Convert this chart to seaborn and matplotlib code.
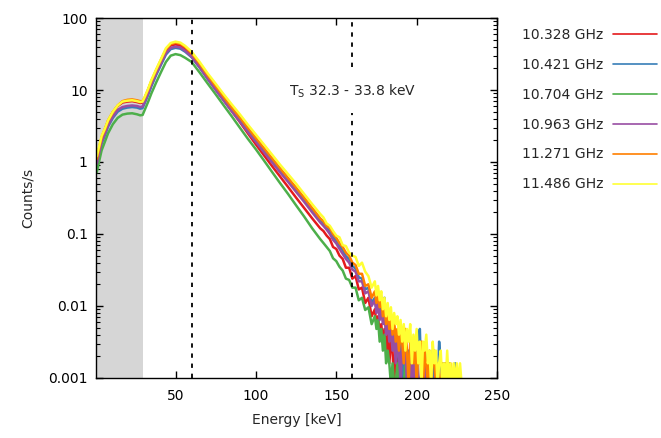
import matplotlib
matplotlib.use("Agg")
import pandas as pd
import matplotlib.pyplot as plt
import seaborn as sns
from matplotlib.ticker import NullFormatter

# energy grid (keV): coarse on the smooth part, finer in the noisy tail
energy_main = [1, 2, 4, 6, 8, 11, 14, 17, 20, 23, 26, 28, 29.5, 31, 33, 35, 38, 41, 44, 47, 50,
               53, 56, 60, 65, 70, 75, 80, 85, 90, 95, 100, 105, 110, 115, 120, 125, 130, 135, 140]
energy_tail = [142, 144, 146, 148, 150, 152, 154, 156, 158, 160, 162, 164, 166, 168, 170, 172, 174,
               175, 176, 177, 178, 179, 180, 181, 182, 183, 184, 185, 186, 187, 188, 189, 190,
               191, 192, 193, 194, 195, 196, 197, 198, 199, 200, 201, 202, 203, 204, 205, 206,
               207, 208, 209, 210, 211, 212, 213, 214, 215, 216, 217, 218, 219, 220, 221, 222,
               223, 224, 225, 226, 227, 228, 229, 230]

labels = ['10.328 GHz', '10.421 GHz', '10.704 GHz', '10.963 GHz', '11.271 GHz', '11.486 GHz']

# counts/s (1 count ~ 0.0008/s)
rate_10328 = [1.1, 1.4, 2.2, 2.85, 3.75, 4.95, 6.0, 6.7, 6.9, 7.0, 6.8, 6.6, 6.7, 7.9, 10.1, 13.2,
              18.6, 25.5, 35, 41.5, 43, 41.5, 37.5, 31, 22, 15.2, 10.5, 7.3, 5.1, 3.6, 2.5, 1.75,
              1.24, 0.88, 0.63, 0.45, 0.32, 0.23, 0.165, 0.12,
              0.11, 0.095, 0.085, 0.066, 0.062, 0.05, 0.045, 0.034, 0.034, 0.024, 0.026, 0.017,
              0.018, 0.011, 0.013, 0.0072, 0.009,
              0.0056, 0.0072, 0.004, 0.0056, 0.0032, 0.0048, 0.0024, 0.004, 0.0016, 0.0032,
              0.0024, 0.0008, 0.0024, 0.0016, 0.0008, 0.0024, 0.0008, 0.0016, 0.0008, 0.0016,
              0.0008, 0.0008, 0.0016, 0.0008, 0.0008, 0.0016, 0.0008, 0.0008, 0.0008, 0.0016,
              0.0008, 0.0008, 0.0008, 0.0016, 0.0008, 0.0008, 0.0008, 0.0008, 0.0016, 0.0008,
              0.0008, 0.0008, 0.0008, 0.0016, 0.0008, 0.0008, 0.0008, 0.0008, 0.0008, 0.0008,
              0.0008, 0.0008, 0.0008, 0.0008, 0.0008, 0.0008]
rate_10421 = [0.9, 1.15, 1.8, 2.35, 3.1, 4.1, 5.0, 5.5, 5.7, 5.8, 5.7, 5.5, 5.6, 6.7, 8.6, 11.3,
              16.2, 22.5, 31, 37, 38.5, 37.5, 34, 28.5, 20.5, 14.2, 10.1, 7.2, 5.2, 3.8, 2.74, 2.0,
              1.46, 1.06, 0.77, 0.57, 0.42, 0.3, 0.22, 0.158,
              0.14, 0.125, 0.11, 0.09, 0.082, 0.068, 0.06, 0.049, 0.045, 0.036, 0.033, 0.025,
              0.024, 0.017, 0.018, 0.011, 0.013,
              0.0088, 0.012, 0.0072, 0.0096, 0.0064, 0.013, 0.0048, 0.0072, 0.004, 0.0056,
              0.0032, 0.0048, 0.0024, 0.004, 0.0016, 0.0032, 0.0024, 0.0008, 0.0032, 0.0016,
              0.0024, 0.0008, 0.0016, 0.0024, 0.0008, 0.0016, 0.0032, 0.0048, 0.0008, 0.0016,
              0.0008, 0.0024, 0.0008, 0.0016, 0.0008, 0.0024, 0.0008, 0.0016, 0.0008, 0.0032,
              0.0016, 0.0008, 0.0016, 0.0008, 0.0008, 0.0016, 0.0008, 0.0008, 0.0008, 0.0016,
              0.0008, 0.0008, 0.0008, 0.0008, 0.0008, 0.0008]
rate_10704 = [0.72, 0.92, 1.45, 1.9, 2.5, 3.35, 4.1, 4.55, 4.7, 4.75, 4.6, 4.45, 4.5, 5.4, 6.9, 9.0,
              12.8, 17.8, 24.5, 30, 31.5, 30.5, 28, 24.5, 17.5, 12.3, 8.7, 6.1, 4.3, 3.0, 2.1, 1.5,
              1.05, 0.73, 0.51, 0.36, 0.25, 0.175, 0.12, 0.085,
              0.075, 0.066, 0.058, 0.046, 0.042, 0.035, 0.031, 0.024, 0.023, 0.018, 0.018, 0.012,
              0.013, 0.0088, 0.0096, 0.0056, 0.0072,
              0.0048, 0.0064, 0.0032, 0.0048, 0.0024, 0.004, 0.0016, 0.0024, 0.0016, 0.0008,
              0.0016, 0.0008, 0.0008, 0.0016, 0.0008, 0.0008, 0.0008, 0.0008, 0.0016, 0.0008,
              0.0008, 0.0008, 0.0008, 0.0008, 0.0008, 0.0008, 0.0008, 0.0008, 0.0008, 0.0008,
              0.0008, 0.0008, 0.0008, 0.0008, 0.0008, 0.0008, 0.0008, 0.0008, 0.0008, 0.0008,
              0.0008, 0.0008, 0.0008, 0.0008, 0.0016, 0.0008, 0.0008, 0.0008, 0.0008, 0.0008,
              0.0008, 0.0008, 0.0008, 0.0008, 0.0008, 0.0008]
rate_10963 = [0.95, 1.2, 1.9, 2.45, 3.2, 4.3, 5.3, 5.8, 6.0, 6.1, 6.0, 5.8, 5.9, 7.0, 9.0, 11.9,
              17, 23.5, 32.5, 38.5, 40, 39, 35, 29, 20.6, 14.3, 10.0, 7.1, 5.05, 3.65, 2.62, 1.9,
              1.37, 0.99, 0.72, 0.53, 0.385, 0.28, 0.2, 0.145,
              0.13, 0.115, 0.1, 0.083, 0.074, 0.062, 0.053, 0.045, 0.04, 0.032, 0.03, 0.022,
              0.022, 0.015, 0.016, 0.01, 0.012,
              0.008, 0.011, 0.0064, 0.0088, 0.0056, 0.0072, 0.004, 0.0064, 0.0032, 0.0048,
              0.0024, 0.004, 0.0016, 0.0032, 0.0024, 0.0008, 0.0032, 0.0016, 0.0024, 0.0008,
              0.0016, 0.0024, 0.0008, 0.0016, 0.0008, 0.0024, 0.0008, 0.0008, 0.0016, 0.0008,
              0.0016, 0.0008, 0.0008, 0.0016, 0.0008, 0.0008, 0.0008, 0.0016, 0.0008, 0.0008,
              0.0008, 0.0008, 0.0008, 0.0008, 0.0008, 0.0008, 0.0008, 0.0008, 0.0008, 0.0008,
              0.0008, 0.0008, 0.0008, 0.0008, 0.0008, 0.0008]
rate_11271 = [1.1, 1.4, 2.2, 2.8, 3.7, 4.9, 6.1, 7.0, 7.3, 7.4, 7.2, 7.0, 7.0, 8.0, 10.2, 13.4,
              19, 26.5, 36.5, 43.5, 45.5, 44, 39.5, 32.5, 23.2, 16, 11.3, 8.0, 5.7, 4.15, 2.98, 2.15,
              1.56, 1.13, 0.82, 0.6, 0.44, 0.32, 0.23, 0.165,
              0.15, 0.13, 0.12, 0.1, 0.088, 0.075, 0.066, 0.055, 0.05, 0.04, 0.037, 0.028,
              0.028, 0.019, 0.02, 0.013, 0.016,
              0.011, 0.014, 0.0096, 0.012, 0.0072, 0.0096, 0.0056, 0.008, 0.0048, 0.0072,
              0.004, 0.0064, 0.0032, 0.0048, 0.0024, 0.004, 0.0032, 0.0016, 0.0048, 0.0024,
              0.0008, 0.0032, 0.0024, 0.0016, 0.0032, 0.0008, 0.0024, 0.0016, 0.0032, 0.0008,
              0.0024, 0.0016, 0.0008, 0.0024, 0.0008, 0.0016, 0.0024, 0.0008, 0.0016, 0.0008,
              0.0008, 0.0016, 0.0008, 0.0016, 0.0008, 0.0008, 0.0016, 0.0008, 0.0008, 0.0008,
              0.0008, 0.0008, 0.0008, 0.0008, 0.0008, 0.0008]
rate_11486 = [1.2, 1.5, 2.3, 2.9, 3.8, 5.0, 6.1, 6.9, 7.1, 7.2, 7.0, 6.8, 6.9, 8.2, 10.5, 13.8,
              19.5, 27, 38, 45, 47, 45.5, 41, 34, 24.5, 17, 12.2, 8.7, 6.3, 4.6, 3.3, 2.4,
              1.75, 1.27, 0.92, 0.68, 0.5, 0.36, 0.26, 0.19,
              0.17, 0.14, 0.13, 0.11, 0.095, 0.09, 0.07, 0.068, 0.055, 0.05, 0.048, 0.036,
              0.04, 0.03, 0.026, 0.018, 0.022,
              0.014, 0.019, 0.012, 0.016, 0.009, 0.013, 0.0072, 0.011, 0.0064, 0.0096,
              0.0048, 0.008, 0.0056, 0.0072, 0.004, 0.0064, 0.0032, 0.0056, 0.0024, 0.0048,
              0.0032, 0.0056, 0.0016, 0.004, 0.0024, 0.0048, 0.0016, 0.0032, 0.0008, 0.0032,
              0.0024, 0.004, 0.0016, 0.0024, 0.0008, 0.0032, 0.0016, 0.0024, 0.0008, 0.0016,
              0.0024, 0.0008, 0.0016, 0.0008, 0.0024, 0.0008, 0.0016, 0.0008, 0.0016, 0.0008,
              0.0016, 0.0008, 0.0016, 0.0008, 0.0008, 0.0008]

series = [rate_10328, rate_10421, rate_10704, rate_10963, rate_11271, rate_11486]
yticks = [0.001, 0.01, 0.1, 1, 10, 100]
ytick_labels = ['0.001', '0.01', '0.1', '1', '10', '100']
xticks = [50, 100, 150, 200, 250]

sns.set_style('ticks')
plt.rcParams['font.family'] = ['DejaVu Sans']
plt.rcParams['axes.edgecolor'] = 'black'
palette = sns.color_palette('Set1', 6)

fig, ax = plt.subplots(figsize=(6.61, 4.38), dpi=100)
fig.subplots_adjust(left=0.1452, right=0.7519, top=0.9589, bottom=0.137)

ax.axvspan(0, 29.5, color='#d6d6d6', lw=0, zorder=0)

energy = energy_main + energy_tail
for name, vals, col in zip(labels, series, palette):
    df = pd.DataFrame({'energy': energy, 'rate': vals})
    sns.lineplot(data=df, x='energy', y='rate', color=col, lw=1.8, label=name,
                 estimator=None, sort=False, ax=ax)

ax.set_yscale('log')
ax.set_xlim(0.5, 250)
ax.set_ylim(0.001, 100)
ax.set_yticks(yticks, ytick_labels)
ax.yaxis.set_minor_formatter(NullFormatter())
ax.set_xticks(xticks, [str(t) for t in xticks])

dash = (0, (2.4, 3.2))
ax.axvline(60, color='black', lw=1.3, ls=dash, zorder=5)
ax.axvline(160, ymin=0, ymax=0.736, color='black', lw=1.3, ls=dash, zorder=5)
ax.axvline(160, ymin=0.864, ymax=1, color='black', lw=1.3, ls=dash, zorder=5)
ax.text(160, 9.5, 'T$_{\\rm S}$ 32.3 - 33.8 keV', ha='center', va='center', fontsize=10)

ax.tick_params(axis='both', which='both', direction='in', top=True, right=True,
               labelsize=10, colors='black')
ax.tick_params(which='major', length=5, width=1)
ax.tick_params(which='minor', length=3, width=0.8)
ax.tick_params(axis='y', pad=6)
ax.tick_params(axis='x', pad=8)
for sp in ax.spines.values():
    sp.set_linewidth(1)
    sp.set_color('black')

ax.set_xlabel('Energy [keV]', fontsize=10, labelpad=7)
ax.set_ylabel('Counts/s', fontsize=10, labelpad=10)

leg = ax.legend(loc='upper left', bbox_to_anchor=(0.789, 0.937), bbox_transform=fig.transFigure,
                frameon=False, markerfirst=False, handlelength=3.2, handletextpad=0.7,
                labelspacing=1.15, borderpad=0, borderaxespad=0, fontsize=10)
for line in leg.get_lines():
    line.set_linewidth(1.2)

fig.savefig('out.png', dpi=100)
